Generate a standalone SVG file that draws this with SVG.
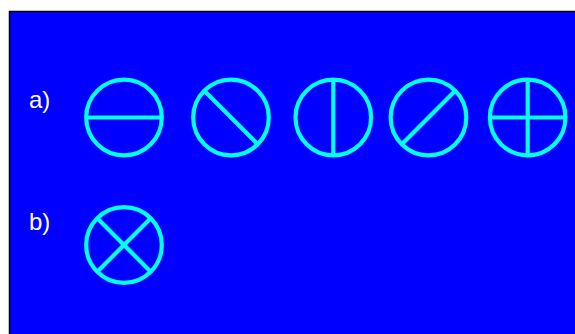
<svg xmlns="http://www.w3.org/2000/svg" width="575" height="334" viewBox="0 0 575 334">
<style>
.sym{fill:none;stroke:#00FFFF;stroke-width:4.2}
.lbl{font-family:"Liberation Sans",Arial,sans-serif;font-size:24px;fill:#FFFFFF}
</style>
<rect x="0" y="0" width="575" height="334" fill="#FFFFFF"/>
<rect x="9.5" y="11.5" width="570" height="330" fill="#0000FF" stroke="#000000" stroke-width="1.5"/>
<g id="label-a"><text class="lbl" x="29" y="108">a)</text></g>
<g id="label-b"><text class="lbl" x="29" y="230">b)</text></g>
<g id="sym-a1" class="sym">
<circle cx="124" cy="117.5" r="37.8"/>
<line x1="86" y1="117.5" x2="162" y2="117.5"/>
</g>
<g id="sym-a2" class="sym">
<circle cx="231" cy="117.5" r="37.8"/>
<line x1="204.3" y1="90.8" x2="257.7" y2="144.2"/>
</g>
<g id="sym-a3" class="sym">
<circle cx="333.3" cy="117.5" r="37.8"/>
<line x1="333.3" y1="79.7" x2="333.3" y2="155.3"/>
</g>
<g id="sym-a4" class="sym">
<circle cx="428.5" cy="117.5" r="37.8"/>
<line x1="401.8" y1="144.2" x2="455.2" y2="90.8"/>
</g>
<g id="sym-a5" class="sym">
<circle cx="527.7" cy="117.5" r="37.8"/>
<line x1="489.9" y1="117.5" x2="565.5" y2="117.5"/>
<line x1="527.7" y1="79.7" x2="527.7" y2="155.3"/>
</g>
<g id="sym-b1" class="sym">
<circle cx="124" cy="245" r="37.8"/>
<line x1="97.3" y1="218.3" x2="150.7" y2="271.7"/>
<line x1="97.3" y1="271.7" x2="150.7" y2="218.3"/>
</g>
</svg>
